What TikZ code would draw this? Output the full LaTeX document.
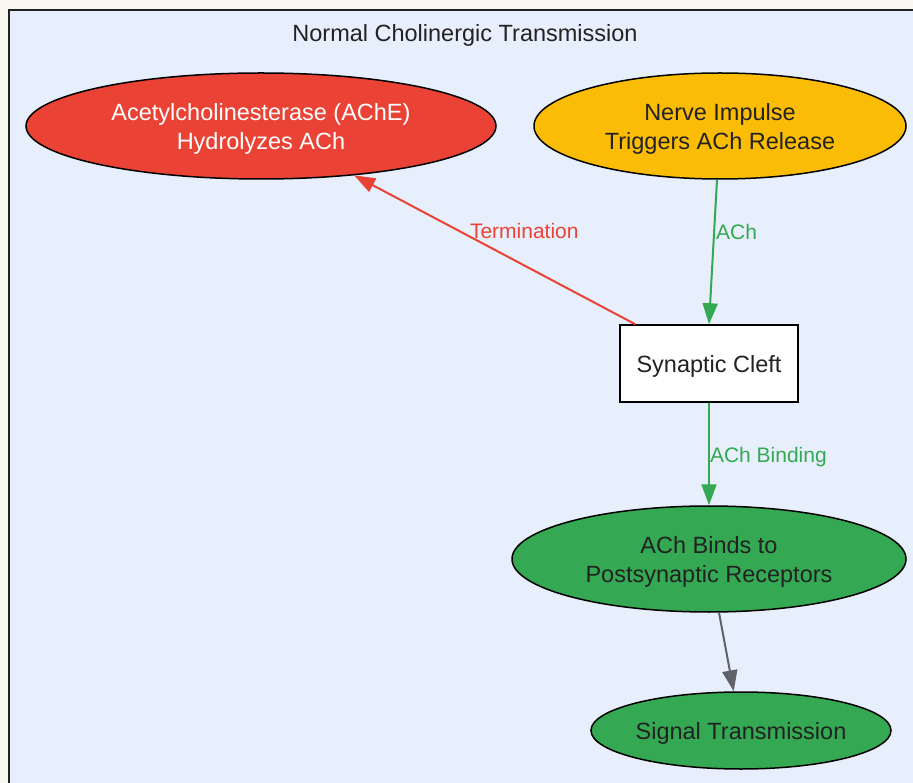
\documentclass[tikz,border=0pt]{standalone}
\usepackage{fontspec}
\setmainfont{Liberation Sans}
\usetikzlibrary{shapes.geometric,arrows.meta}
\definecolor{bgout}{HTML}{F8F7F2}
\definecolor{clusterfill}{HTML}{E8EFFC}
\definecolor{gred}{HTML}{EA4335}
\definecolor{gyellow}{HTML}{FBBC05}
\definecolor{ggreen}{HTML}{34A853}
\definecolor{ggray}{HTML}{5F6368}
\definecolor{txt}{HTML}{222222}
\tikzset{
  nodefont/.style={font=\fontsize{23.5}{29}\selectfont},
  lblfont/.style={font=\fontsize{21}{25}\selectfont},
  oval/.style={ellipse, draw=black, line width=1.5pt, inner sep=0pt, align=center, nodefont, text=txt, text height=22pt},
  twoline/.style={text height=52pt},
  boxnode/.style={rectangle, draw=black, line width=1.5pt, fill=white, inner sep=0pt, align=center, nodefont, text=txt, text height=22pt},
  edge/.style={line width=2pt, -{Triangle[length=21pt,width=15pt]}},
  elabel/.style={lblfont, inner sep=0pt, anchor=west}
}
\begin{document}
\begin{tikzpicture}[x=1pt,y=-1pt]
\useasboundingbox (0,0) rectangle (913,783);
\fill[bgout] (0,0) rectangle (913,783);
\begin{scope}
\clip (0,0) rectangle (913,783);
\draw[fill=clusterfill, draw=txt, line width=2pt] (9,10) rectangle (940,810);
\end{scope}
\node[nodefont, text=txt] (title) at (465,35) {Normal Cholinergic Transmission};

\node[oval, twoline, fill=gred, text=white, minimum width=470pt, minimum height=106pt] (ache) at (261,126) {Acetylcholinesterase (AChE)\\Hydrolyzes ACh};
\node[oval, twoline, fill=gyellow, minimum width=372pt, minimum height=106pt] (nerve) at (720,126) {Nerve Impulse\\Triggers ACh Release};
\node[boxnode, minimum width=178pt, minimum height=77pt] (cleft) at (709,363.5) {Synaptic Cleft};
\node[oval, twoline, fill=ggreen, minimum width=394pt, minimum height=106pt] (binds) at (709,559) {ACh Binds to\\Postsynaptic Receptors};
\node[oval, fill=ggreen, minimum width=300pt, minimum height=77pt] (signal) at (741,730.5) {Signal Transmission};

\draw[edge, draw=ggreen, fill=ggreen] ([xshift=-3pt]nerve.south) -- (cleft.north)
  node[elabel, text=ggreen, pos=0.365, xshift=1pt] {ACh};
\draw[edge, draw=gred, fill=gred] ([xshift=16pt]cleft.north west) -- (ache)
  node[elabel, text=gred, pos=0.627, xshift=10pt] {Termination};
\draw[edge, draw=ggreen, fill=ggreen] (cleft.south) -- (binds.north)
  node[elabel, text=ggreen, pos=0.53, xshift=0pt] {ACh Binding};
\draw[edge, draw=ggray, fill=ggray] (binds) -- (signal);
\end{tikzpicture}
\end{document}
